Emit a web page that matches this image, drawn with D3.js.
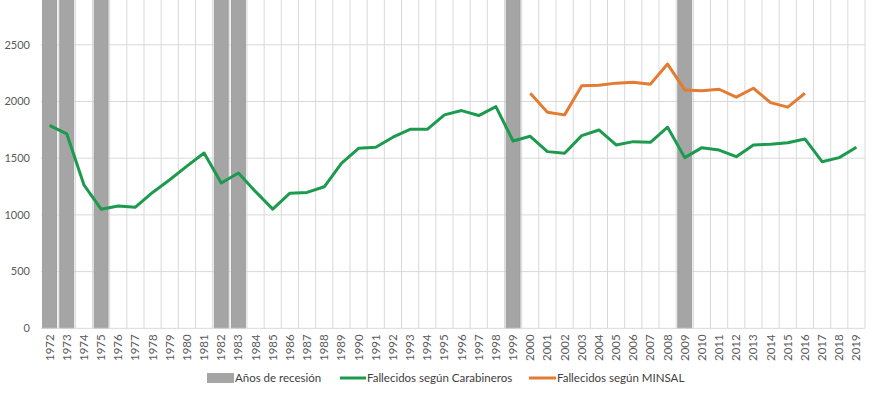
<!DOCTYPE html>
<html>
<head>
<meta charset="utf-8">
<script src="https://cdn.jsdelivr.net/npm/d3@7"></script>
<style>
  body { margin: 0; background: #fff; }
  svg { font-family: Lato, "Open Sans", sans-serif; }
</style>
</head>
<body>
<div id="chart"></div>
<script>
const years = d3.range(1972, 2020).map(String);
const recessionYears = ["1972", "1973", "1975", "1982", "1983", "1999", "2009"];
const carabineros = [1790, 1715, 1265, 1050, 1078, 1068, 1198, 1310, 1430, 1546, 1281, 1369,
  1205, 1051, 1192, 1198, 1248, 1455, 1587, 1596, 1685, 1755, 1755, 1882, 1920, 1876, 1955,
  1652, 1693, 1558, 1543, 1699, 1749, 1617, 1646, 1640, 1773, 1505, 1593, 1572, 1513, 1617,
  1623, 1637, 1670, 1469, 1505, 1596];
const minsalYears = d3.range(2000, 2017).map(String);
const minsal = [2073, 1906, 1882, 2138, 2144, 2162, 2170, 2153, 2330, 2102, 2094, 2108, 2038,
  2117, 1990, 1950, 2073];
const yTicks = [0, 500, 1000, 1500, 2000, 2500];
const legendLabels = ["Años de recesión", "Fallecidos según Carabineros", "Fallecidos según MINSAL"];

const W = 875, H = 393;
const left = 41, right = 865, bottom = 328.3;

const svg = d3.select("#chart").append("svg")
    .attr("width", W)
    .attr("height", H);

const x = d3.scaleBand().domain(years).range([left, right]).paddingInner(0).paddingOuter(0);
const y = d3.scaleLinear().domain([0, 3000]).range([bottom, bottom - 6 * 56.7]);

// horizontal grid
svg.append("g")
    .selectAll("line")
    .data(yTicks.slice(1))
    .enter().append("line")
    .attr("x1", left).attr("x2", right)
    .attr("y1", d => y(d)).attr("y2", d => y(d))
    .attr("stroke", "#d9d9d9").attr("stroke-width", 1);

// vertical grid at category boundaries
svg.append("g")
    .selectAll("line")
    .data(years.slice(1).concat(["end"]))
    .enter().append("line")
    .attr("x1", d => d === "end" ? right : x(d))
    .attr("x2", d => d === "end" ? right : x(d))
    .attr("y1", 0).attr("y2", bottom)
    .attr("stroke", "#d9d9d9").attr("stroke-width", 1);

// recession bars
const barPad = 1.6;
svg.append("g")
    .selectAll("rect")
    .data(recessionYears)
    .enter().append("rect")
    .attr("x", d => x(d) + barPad)
    .attr("width", x.bandwidth() - 2 * barPad)
    .attr("y", y(3000))
    .attr("height", bottom - y(3000))
    .attr("fill", "#a5a5a5")
    .attr("stroke", "#979797")
    .attr("stroke-width", 0.8);

// x axis baseline
svg.append("line")
    .attr("x1", left).attr("x2", right)
    .attr("y1", bottom).attr("y2", bottom)
    .attr("stroke", "#d9d9d9");

// y tick labels
svg.append("g")
    .selectAll("text")
    .data(yTicks)
    .enter().append("text")
    .attr("x", 30)
    .attr("y", d => y(d))
    .attr("dy", "0.35em")
    .attr("text-anchor", "end")
    .attr("fill", "#595959")
    .style("font-size", "11px")
    .text(d => d);

// x tick labels (rotated)
svg.append("g")
    .selectAll("text")
    .data(years)
    .enter().append("text")
    .attr("transform", d => `translate(${x(d) + x.bandwidth() / 2 + 4},${bottom + 6}) rotate(-90)`)
    .attr("text-anchor", "end")
    .attr("fill", "#595959")
    .style("font-size", "11.5px")
    .text(d => d);

const cx = d => x(d) + x.bandwidth() / 2;

const line = d3.line()
    .x(d => cx(d[0]))
    .y(d => y(d[1]));

svg.append("path")
    .datum(years.map((yr, i) => [yr, carabineros[i]]))
    .attr("fill", "none")
    .attr("stroke", "#1c9a4e")
    .attr("stroke-width", 3)
    .attr("stroke-linejoin", "round")
    .attr("d", line);

svg.append("path")
    .datum(minsalYears.map((yr, i) => [yr, minsal[i]]))
    .attr("fill", "none")
    .attr("stroke", "#e37b32")
    .attr("stroke-width", 3)
    .attr("stroke-linejoin", "round")
    .attr("d", line);

// legend
const lg = svg.append("g").style("font-size", "11.5px").attr("fill", "#404040");
lg.append("rect")
    .attr("x", 207).attr("y", 373).attr("width", 27).attr("height", 10)
    .attr("fill", "#a5a5a5");
lg.append("text").attr("x", 235).attr("y", 378).attr("dy", "0.35em").text(legendLabels[0]);
lg.append("line")
    .attr("x1", 340).attr("x2", 366).attr("y1", 378).attr("y2", 378)
    .attr("stroke", "#1c9a4e").attr("stroke-width", 3);
lg.append("text").attr("x", 367).attr("y", 378).attr("dy", "0.35em").text(legendLabels[1]);
lg.append("line")
    .attr("x1", 529).attr("x2", 556).attr("y1", 378).attr("y2", 378)
    .attr("stroke", "#e37b32").attr("stroke-width", 3);
lg.append("text").attr("x", 557).attr("y", 378).attr("dy", "0.35em").text(legendLabels[2]);
</script>
</body>
</html>
